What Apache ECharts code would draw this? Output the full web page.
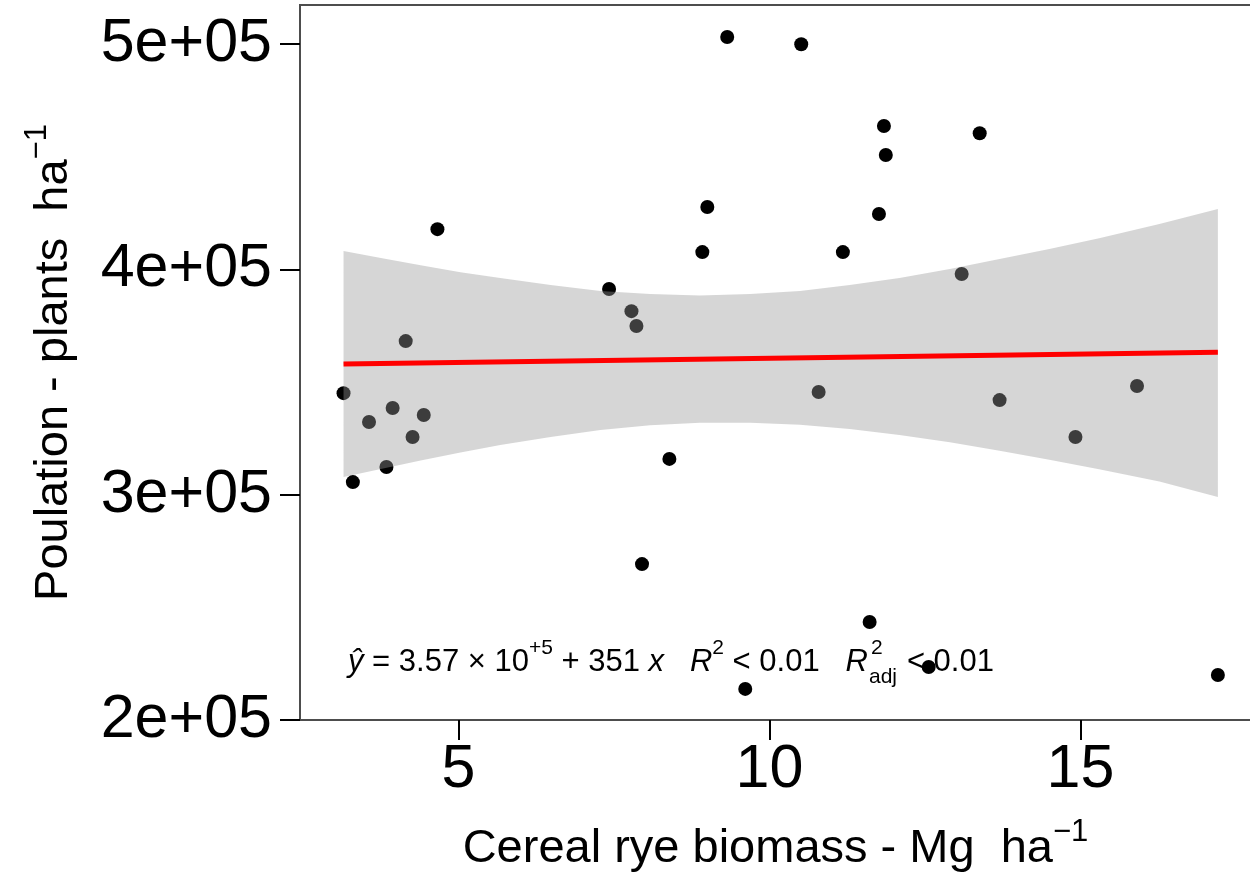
<!DOCTYPE html>
<html>
<head>
<meta charset="utf-8">
<script src="https://cdn.jsdelivr.net/npm/echarts@6/dist/echarts.min.js"></script>
<style>
  html, body { margin: 0; padding: 0; background: #fff; }
  #chart { width: 1250px; height: 876px; }
</style>
</head>
<body>
<div id="chart"></div>
<script>
// ---- data ----
const biomass = [3.15, 3.30, 3.56, 3.84, 3.94, 4.15, 4.26, 4.44, 4.66,
                 7.42, 7.78, 7.86, 7.95, 8.39, 8.92, 9.00, 9.32, 9.61,
                 10.51, 10.79, 11.18, 11.61, 11.76, 11.84, 11.87, 12.56,
                 13.09, 13.38, 13.70, 14.92, 15.91, 17.21];
const population = [345100, 305600, 332300, 312300, 338500, 368200, 325600, 335400, 417900,
                    391300, 381500, 374900, 269200, 315900, 407700, 427700, 503200, 213800,
                    500000, 345600, 407700, 243500, 424600, 463700, 450800, 223500,
                    398000, 460500, 342000, 325600, 348300, 220000];

// confidence band of the fit
const bandX     = [3.15, 3.75, 4.39, 5.03, 5.67, 6.48, 7.28, 8.08, 8.88, 9.69,
                   10.49, 11.29, 12.09, 12.90, 13.70, 14.50, 15.30, 16.27, 17.21];
const bandUpper = [408200, 405100, 401900, 398800, 396200, 393100, 390400, 389100, 388400, 389100,
                   390400, 393100, 396200, 400200, 404600, 409100, 413900, 420200, 426800];
const bandLower = [307900, 311400, 315200, 318700, 322100, 325600, 328700, 330800, 332000, 332000,
                   331100, 329200, 326500, 323300, 319500, 315500, 311300, 305900, 299000];

// fitted line end points
const fitX = [3.15, 17.21];
const fitY = [358000, 363300];

// axis ticks
const xTickValues = [5, 10, 15];
const yTickValues = [200000, 300000, 400000, 500000];
const yTickLabels = ['2e+05', '3e+05', '4e+05', '5e+05'];

const FONT = '"Liberation Sans", Arial, Helvetica, sans-serif';

const chart = echarts.init(document.getElementById('chart'), null, { renderer: 'canvas' });

const option = {
  animation: false,
  backgroundColor: '#ffffff',
  grid: {
    left: 300, top: 5, width: 967, height: 715,
    containLabel: false,
    outerBoundsMode: 'none',
    show: true, borderColor: '#4d4d4d', borderWidth: 2, backgroundColor: 'transparent'
  },
  xAxis: {
    type: 'value',
    min: 2.45, max: 18.0,
    splitLine: { show: false },
    axisLine: { show: true, onZero: false, lineStyle: { color: '#4d4d4d', width: 2 } },
    axisTick: { show: true, length: 20, lineStyle: { color: '#000', width: 2 }, customValues: xTickValues },
    axisLabel: { fontSize: 61, fontFamily: FONT, color: '#000', margin: 20, customValues: xTickValues },
    name: '{n|Cereal rye biomass - Mg  ha}{sup|\u22121}',
    nameLocation: 'middle',
    nameGap: 97,
    nameTextStyle: {
      fontFamily: FONT, color: '#000', fontSize: 47,
      padding: [0, 16, 0, 0],
      rich: {
        n: { fontSize: 47, fontFamily: FONT, color: '#000', lineHeight: 56, verticalAlign: 'bottom' },
        sup: { fontSize: 31, fontFamily: FONT, color: '#000', lineHeight: 31, verticalAlign: 'top' }
      }
    }
  },
  yAxis: {
    type: 'value',
    min: 200000, max: 517400,
    splitLine: { show: false },
    axisLine: { show: true, onZero: false, lineStyle: { color: '#4d4d4d', width: 2 } },
    axisTick: { show: true, length: 20, lineStyle: { color: '#000', width: 2 }, customValues: yTickValues },
    axisLabel: {
      fontSize: 61, fontFamily: FONT, color: '#000', margin: 28,
      customValues: yTickValues,
      formatter: function (v) {
        const i = yTickValues.indexOf(v);
        return i >= 0 ? yTickLabels[i] : '';
      }
    },
    name: '{n|Poulation - plants  ha}{sup|\u22121}',
    nameLocation: 'middle',
    nameGap: 222,
    nameTextStyle: {
      fontFamily: FONT, color: '#000', fontSize: 47,
      rich: {
        n: { fontSize: 47, fontFamily: FONT, color: '#000', lineHeight: 56, verticalAlign: 'bottom' },
        sup: { fontSize: 31, fontFamily: FONT, color: '#000', lineHeight: 31, verticalAlign: 'top' }
      }
    }
  },
  series: [
    {
      type: 'scatter',
      data: biomass.map((x, i) => [x, population[i]]),
      symbol: 'circle',
      symbolSize: 14,
      itemStyle: { color: '#000000', opacity: 1 },
      z: 2,
      silent: true
    },
    {
      type: 'custom',
      z: 3,
      silent: true,
      clip: true,
      data: [[bandX[0], bandUpper[0]]],
      renderItem: function (params, api) {
        const pts = [];
        for (let i = 0; i < bandX.length; i++) pts.push(api.coord([bandX[i], bandUpper[i]]));
        for (let i = bandX.length - 1; i >= 0; i--) pts.push(api.coord([bandX[i], bandLower[i]]));
        return {
          type: 'polygon',
          shape: { points: pts },
          style: { fill: '#999999', opacity: 0.4, stroke: null }
        };
      }
    },
    {
      type: 'line',
      data: fitX.map((x, i) => [x, fitY[i]]),
      showSymbol: false,
      lineStyle: { color: '#ff0000', width: 5 },
      z: 4,
      silent: true
    }
  ],
  graphic: [
    {
      type: 'text',
      x: 348, y: 638,
      z: 10,
      style: {
        text: '{i|\u0177}{n| = 3.57 \u00d7 10}{sup|+5}{n| + 351 }{i|x}{n|   }{i|R}{sup|2}{n| < 0.01   }{i|R}{sup2|2}{n|< 0.01}',
        fontFamily: FONT, fontSize: 31, fill: '#000',
        rich: {
          n: { fontSize: 31, fontFamily: FONT, color: '#000', lineHeight: 40, verticalAlign: 'bottom' },
          i: { fontSize: 31, fontFamily: FONT, color: '#000', fontStyle: 'italic', lineHeight: 40, verticalAlign: 'bottom' },
          sup: { fontSize: 21, fontFamily: FONT, color: '#000', lineHeight: 21, verticalAlign: 'top' },
          sup2: { fontSize: 21, fontFamily: FONT, color: '#000', lineHeight: 21, verticalAlign: 'top', width: 36, align: 'left', padding: [0, 0, 0, 3] }
        }
      }
    },
    {
      type: 'text',
      x: 869, y: 667,
      z: 10,
      style: { text: 'adj', fontFamily: FONT, fontSize: 21, fill: '#000' }
    }
  ]
};

chart.setOption(option);
</script>
</body>
</html>
